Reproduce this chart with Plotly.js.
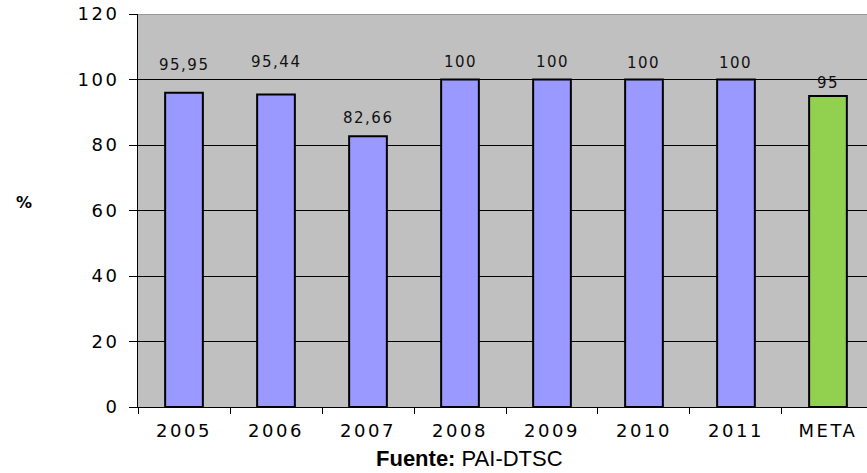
<!DOCTYPE html>
<html>
<head>
<meta charset="utf-8">
<script src="https://cdn.plot.ly/plotly-3.0.1.min.js"></script>
<style>
  html, body { margin: 0; padding: 0; background: #ffffff; }
  #chart { width: 867px; height: 473px; }
  .xtick text, .ytick text { letter-spacing: 2.5px; }
  .annotation-text { letter-spacing: 1.5px; }
  .annotation-text.source-note { letter-spacing: 0px; }
</style>
</head>
<body>
<div id="chart"></div>
<script>
// ---- data ----
const categories = ["2005", "2006", "2007", "2008", "2009", "2010", "2011", "META"];
const values = [95.95, 95.44, 82.66, 100, 100, 100, 100, 95];
const yTickValues = [0, 20, 40, 60, 80, 100, 120];
const yAxisLabel = "%";
const sourceLabel = "Fuente:";
const sourceText = "PAI-DTSC";

// ---- styles ----
const barColors = categories.map(c => c === "META" ? "#92d050" : "#9999ff");
const labelShiftPx = [28, 32, 18, 18, 18, 17, 17, 13];

const labels = values.map(v => String(v).replace(".", ","));

const trace = {
  type: "bar",
  x: categories,
  y: values,
  marker: { color: barColors, line: { color: "#000000", width: 2 } },
  hoverinfo: "none"
};

// category axis: annotation x uses the category index
const annotations = categories.map((c, i) => ({
  x: i, y: values[i], xref: "x", yref: "y",
  text: labels[i], showarrow: false,
  xanchor: "center", yanchor: "middle", yshift: labelShiftPx[i],
  font: { family: "DejaVu Sans, Arial, sans-serif", size: 15, color: "#111111" }
}));

annotations.push({
  xref: "paper", yref: "paper", x: -0.155, y: 0.52, xanchor: "center",
  text: "<b>" + yAxisLabel + "</b>", showarrow: false,
  font: { family: "DejaVu Sans, Arial, sans-serif", size: 16, color: "#000000" }
});
annotations.push({
  xref: "paper", yref: "paper", x: 0.455, y: -0.095,
  xanchor: "center", yanchor: "top",
  text: "<b>" + sourceLabel + "</b> " + sourceText, showarrow: false,
  font: { family: "Liberation Sans, Arial, sans-serif", size: 22, color: "#000000" }
});

const layout = {
  width: 867, height: 473,
  margin: { l: 138, r: 0, t: 14, b: 66 },
  paper_bgcolor: "#ffffff",
  plot_bgcolor: "#c0c0c0",
  showlegend: false,
  bargap: 0.59,
  xaxis: {
    type: "category",
    range: [-0.5, 7.424],
    tickson: "boundaries",
    ticks: "outside", ticklen: 6, tickcolor: "#000000", tickwidth: 1,
    showline: true, linecolor: "#000000", linewidth: 1,
    showgrid: false, zeroline: false,
    ticklabelstandoff: 7,
    tickfont: { family: "DejaVu Sans, Arial, sans-serif", size: 18, color: "#000000" }
  },
  yaxis: {
    range: [0, 120],
    tickvals: yTickValues,
    ticks: "outside", ticklen: 8, tickcolor: "#000000", tickwidth: 1,
    showline: true, linecolor: "#000000", linewidth: 1,
    showgrid: true, gridcolor: "#000000", gridwidth: 1,
    zeroline: false,
    ticklabelstandoff: 6,
    tickfont: { family: "DejaVu Sans, Arial, sans-serif", size: 18, color: "#000000" }
  },
  shapes: [{
    type: "line", xref: "paper", yref: "y", x0: 0, x1: 1, y0: 120, y1: 120,
    line: { color: "#8c8c8c", width: 1.5 }, layer: "above"
  }],
  annotations: annotations
};

Plotly.newPlot("chart", [trace], layout, { displayModeBar: false, staticPlot: true }).then(gd => {
  gd.querySelectorAll(".annotation-text").forEach(t => {
    if (t.textContent.indexOf(sourceLabel) !== -1) {
      t.classList.add("source-note");
      t.style.letterSpacing = "0px";
    }
  });
});
</script>
</body>
</html>
